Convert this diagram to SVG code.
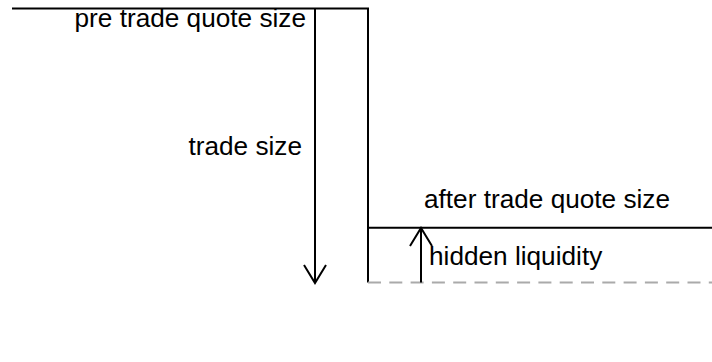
<svg xmlns="http://www.w3.org/2000/svg" width="712" height="362" viewBox="0 0 712 362">
<style>
.ln{stroke:#000;stroke-width:2;fill:none}
.dash{stroke:#aaa;stroke-width:2;fill:none;stroke-dasharray:13 8.3}
.ah{stroke:#000;stroke-width:2;fill:none}
text{font-family:"Liberation Sans",Arial,sans-serif;font-size:26.2px;fill:#000}
</style>
<rect width="712" height="362" fill="#fff"/>
<g id="connectors">
<polyline class="ln" points="12,8.5 368,8.5 368,227.7 712,227.7"/>
<line class="ln" x1="368" y1="227.7" x2="368" y2="282.5"/>
<line class="dash" x1="368" y1="282.5" x2="712" y2="282.5"/>
<g id="trade-arrow">
<line class="ln" x1="315" y1="8.5" x2="315" y2="283"/>
<polyline class="ah" points="304,265 315,283 326,265"/>
</g>
<g id="hidden-arrow">
<line class="ln" x1="421" y1="282.5" x2="421" y2="228"/>
<polyline class="ah" points="410,246 421,228 432,246"/>
</g>
</g>
<g id="pre-trade"><text x="306" y="27" text-anchor="end">pre trade quote size</text></g>
<g id="trade-size"><text x="302" y="155" text-anchor="end">trade size</text></g>
<g id="after-trade"><text x="424" y="208">after trade quote size</text></g>
<g id="hidden-liquidity"><text x="429" y="265">hidden liquidity</text></g>
</svg>
